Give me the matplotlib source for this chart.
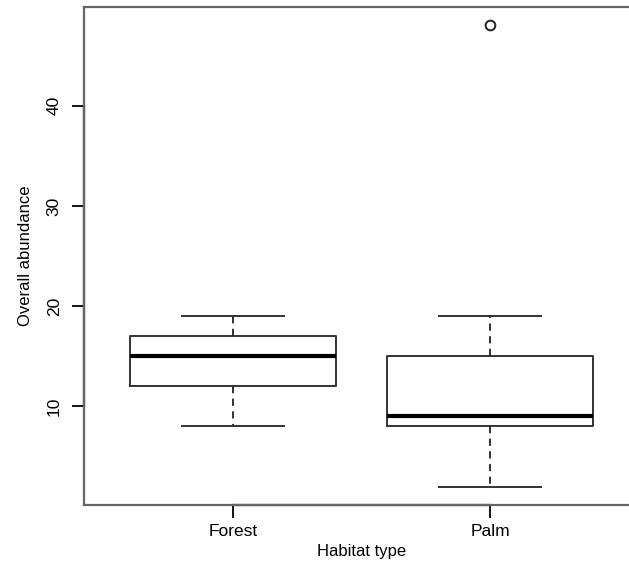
import matplotlib
matplotlib.use("Agg")
import matplotlib.pyplot as plt
import matplotlib.transforms as mtransforms

plt.rcParams["font.family"] = ["Liberation Sans", "DejaVu Sans"]

habitats = ["Forest", "Palm"]
whisker_low = [8, 2]
box_low = [12, 8]
medians = [15, 9]
box_high = [17, 15]
whisker_high = [19, 19]
outliers = [[], [48]]
y_ticks = [10, 20, 30, 40]

stats = []
for i, name in enumerate(habitats):
    stats.append({
        "label": name,
        "whislo": whisker_low[i],
        "q1": box_low[i],
        "med": medians[i],
        "q3": box_high[i],
        "whishi": whisker_high[i],
        "fliers": outliers[i],
    })

fig = plt.figure(figsize=(6.29, 5.65), dpi=100)
ax = fig.add_axes([84 / 629, 1 - 505 / 565, 555 / 629, 498 / 565])

ax.bxp(
    stats,
    positions=[1, 2],
    widths=0.8,
    capwidths=0.4,
    boxprops=dict(color="#333333", linewidth=1.4),
    medianprops=dict(color="black", linewidth=3),
    whiskerprops=dict(color="#222222", linewidth=1.3, linestyle=(0, (4, 3))),
    capprops=dict(color="#333333", linewidth=1.4),
    flierprops=dict(marker="o", markersize=7, markerfacecolor="none",
                    markeredgecolor="#222222", markeredgewidth=1.4),
)

ax.set_xlim(0.42, 2.58)
ax.set_ylim(0.16, 49.84)
ax.set_xticks([1, 2])
ax.set_xticklabels(habitats)
ax.set_yticks(y_ticks)
ax.set_yticklabels([str(t) for t in y_ticks], rotation=90, va="center")

for s in ax.spines.values():
    s.set_color("#666666")
    s.set_linewidth(1.6)

ax.tick_params(axis="both", length=9, width=1.3, colors="black", labelsize=12.5)
ax.tick_params(axis="x", pad=5)
ax.tick_params(axis="y", pad=7)

# axis segments between the outer ticks, darker than the frame
tx = mtransforms.blended_transform_factory(ax.transAxes, ax.transData)
ax.plot([0, 0], [y_ticks[0], y_ticks[-1]], color="black", lw=1.6,
        transform=tx, clip_on=False)
ty = mtransforms.blended_transform_factory(ax.transData, ax.transAxes)
ax.plot([1, 2], [0, 0], color="black", lw=1.6, transform=ty, clip_on=False)

ax.set_xlabel("Habitat type", fontsize=12, labelpad=3)
ax.set_ylabel("Overall abundance", fontsize=12, labelpad=10)

fig.savefig("out.png", dpi=100)
